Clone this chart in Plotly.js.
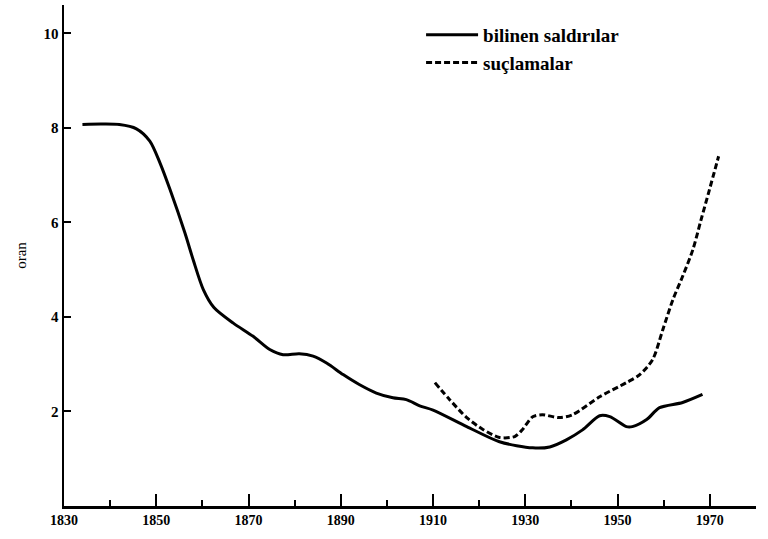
<!DOCTYPE html>
<html>
<head>
<meta charset="utf-8">
<script src="https://cdn.plot.ly/plotly-3.0.1.min.js"></script>
<style>html,body{margin:0;padding:0;background:#fff;}#chart{width:768px;height:539px;}</style>
</head>
<body>
<div id="chart"></div>
<script>
// Series: known assaults (solid) and charges (dashed)
const attackYears = [1834, 1838, 1842, 1845.7, 1848.6, 1850.8, 1853, 1856.2, 1858, 1860.2, 1862.5, 1866.7, 1871, 1874.6, 1877.5, 1881, 1884, 1887, 1890.5, 1894, 1897.7, 1901.3, 1904.2, 1907.1, 1910, 1917.3, 1924.4, 1931.6, 1935.3, 1938.9, 1942.4, 1946.1, 1948.3, 1951.9, 1953.2, 1956.3, 1959.1, 1964.1, 1968.4];
const attackValues = [8.07, 8.08, 8.07, 7.98, 7.72, 7.26, 6.69, 5.78, 5.21, 4.58, 4.2, 3.87, 3.59, 3.31, 3.2, 3.22, 3.17, 3.02, 2.78, 2.57, 2.39, 2.29, 2.25, 2.12, 2.03, 1.68, 1.36, 1.23, 1.25, 1.40, 1.61, 1.91, 1.89, 1.68, 1.68, 1.83, 2.08, 2.19, 2.36];
const chargeYears = [1910.4, 1913.6, 1917.3, 1920.8, 1924.4, 1927.7, 1929.4, 1931.6, 1933.7, 1937.4, 1940.2, 1946.1, 1951.9, 1954.8, 1957.6, 1959.8, 1962, 1964.1, 1966.3, 1968.1, 1969.9, 1971.9];
const chargeValues = [2.61, 2.25, 1.87, 1.62, 1.45, 1.47, 1.62, 1.89, 1.93, 1.87, 1.93, 2.31, 2.61, 2.78, 3.10, 3.73, 4.37, 4.86, 5.42, 6.06, 6.69, 7.40];
const seriesNames = ["bilinen saldırılar", "suçlamalar"];
const xTickVals = [1830, 1850, 1870, 1890, 1910, 1930, 1950, 1970];
const yTickVals = [2, 4, 6, 8, 10];
const yTitle = "oran";

const serif = "'Liberation Serif', 'DejaVu Serif', serif";

const traces = [
  {x: attackYears, y: attackValues, name: seriesNames[0], mode: "lines",
   line: {color: "#000", width: 3, shape: "spline", smoothing: 0.8}},
  {x: chargeYears, y: chargeValues, name: seriesNames[1], mode: "lines",
   line: {color: "#000", width: 3, dash: "6px,3px", shape: "spline", smoothing: 0.8}}
];

const layout = {
  width: 768, height: 539,
  margin: {l: 64, r: 12, t: 5, b: 33},
  paper_bgcolor: "#fff", plot_bgcolor: "#fff",
  showlegend: true,
  legend: {x: 0.516, y: 0.978, xanchor: "left", yanchor: "top",
           font: {family: serif, size: 19, color: "#000", weight: "bold"},
           bgcolor: "rgba(0,0,0,0)", tracegroupgap: 0, itemwidth: 52},
  xaxis: {range: [1830, 1980], tickvals: xTickVals, ticktext: xTickVals.map(String),
          showline: true, linecolor: "#000", linewidth: 2.5,
          ticks: "inside", ticklen: 12, tickwidth: 2, tickcolor: "#000",
          minor: {dtick: 10, tick0: 1830, ticks: "inside", ticklen: 6, tickwidth: 2, tickcolor: "#000"},
          showgrid: false, zeroline: false,
          tickfont: {family: serif, size: 14, color: "#000", weight: "bold"}},
  yaxis: {range: [0, 10.6], tickvals: yTickVals, ticktext: yTickVals.map(String),
          showline: true, linecolor: "#000", linewidth: 2.5,
          ticks: "inside", ticklen: 7, tickwidth: 2, tickcolor: "#000",
          showgrid: false, zeroline: false,
          tickfont: {family: serif, size: 15, color: "#000", weight: "bold"},
          title: {text: yTitle, font: {family: serif, size: 15, color: "#000"}, standoff: 14}}
};

Plotly.newPlot("chart", traces, layout, {displayModeBar: false, staticPlot: true});
</script>
</body>
</html>
